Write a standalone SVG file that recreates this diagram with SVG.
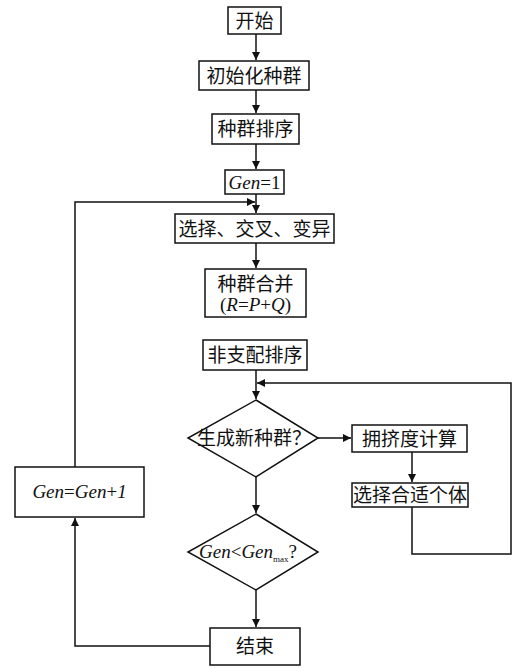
<svg xmlns="http://www.w3.org/2000/svg" width="520" height="668" viewBox="0 0 520 668">
<style>
.b{fill:#fff;stroke:#111;stroke-width:1.5}
.t{font-family:"Noto Sans CJK SC","Noto Sans",sans-serif;font-size:19px;fill:#111;text-anchor:middle}
.i{font-family:"Liberation Serif",serif;font-style:italic;font-size:19px;fill:#111;text-anchor:middle}
.c{fill:none;stroke:#111;stroke-width:1.5}
</style>
<defs>
<marker id="a" viewBox="0 0 10 10" refX="10" refY="5" markerWidth="8" markerHeight="8" markerUnits="userSpaceOnUse" orient="auto"><path d="M0,0L10,5L0,10z" fill="#111"/></marker>
</defs>
<rect width="520" height="668" fill="#fff"/>
<g id="connectors">
<path class="c" d="M256,34V60" marker-end="url(#a)"/>
<path class="c" d="M256,90V113" marker-end="url(#a)"/>
<path class="c" d="M256,144V169" marker-end="url(#a)"/>
<path class="c" d="M256,194V213" marker-end="url(#a)"/>
<path class="c" d="M75,467V202H255" marker-end="url(#a)"/>
<path class="c" d="M256,243V268" marker-end="url(#a)"/>
<path class="c" d="M256,370V399" marker-end="url(#a)"/>
<path class="c" d="M318,438H351" marker-end="url(#a)"/>
<path class="c" d="M412,452V482" marker-end="url(#a)"/>
<path class="c" d="M412,507V554H511V383H257" marker-end="url(#a)"/>
<path class="c" d="M256,477V513" marker-end="url(#a)"/>
<path class="c" d="M256,590V627" marker-end="url(#a)"/>
<path class="c" d="M210,646H75V518" marker-end="url(#a)"/>
</g>
<g id="start"><rect class="b" x="228" y="7" width="53" height="27"/><text class="t" x="254.5" y="27.5">开始</text></g>
<g id="init"><rect class="b" x="199" y="61" width="110" height="29"/><text class="t" x="254" y="82.5">初始化种群</text></g>
<g id="sort"><rect class="b" x="212" y="114" width="87" height="30"/><text class="t" x="255.5" y="135.5">种群排序</text></g>
<g id="gen1"><rect class="b" x="225" y="170" width="59" height="24"/><text class="i" x="254.5" y="189">Gen<tspan font-style="normal">=1</tspan></text></g>
<g id="ops"><rect class="b" x="175" y="214" width="159" height="29"/><text class="t" x="254.5" y="235.5">选择、交叉、变异</text></g>
<g id="merge"><rect class="b" x="205" y="269" width="101" height="48"/><text class="t" x="255.5" y="291">种群合并</text><text class="i" x="255.5" y="311" font-size="17"><tspan font-style="normal">(</tspan>R<tspan font-style="normal">=</tspan>P<tspan font-style="normal">+</tspan>Q<tspan font-style="normal">)</tspan></text></g>
<g id="nds"><rect class="b" x="203" y="340" width="104" height="30"/><text class="t" x="255" y="361.5">非支配排序</text></g>
<g id="d1"><polygon class="b" points="256,400 318,438 256,477 188,438"/><text class="t" x="254" y="445">生成新种群？</text></g>
<g id="crowd"><rect class="b" x="352" y="425" width="115" height="27"/><text class="t" x="409.5" y="445.5">拥挤度计算</text></g>
<g id="select"><rect class="b" x="352" y="483" width="116" height="24"/><text class="t" x="410" y="502">选择合适个体</text></g>
<g id="d2"><polygon class="b" points="256,514 318,552 256,590 188,552"/><text class="i" x="248" y="558" font-size="17">Gen<tspan font-style="normal">&lt;</tspan>Gen<tspan font-size="9" font-style="normal" dy="4">max</tspan><tspan font-style="normal" dy="-4">?</tspan></text></g>
<g id="end"><rect class="b" x="210" y="628" width="90" height="37"/><text class="t" x="255" y="653">结束</text></g>
<g id="inc"><rect class="b" x="15" y="467" width="129" height="50"/><text class="i" x="79.5" y="498" font-size="18">Gen<tspan font-style="normal">=</tspan>Gen<tspan font-style="normal">+</tspan>1</text></g>
</svg>
